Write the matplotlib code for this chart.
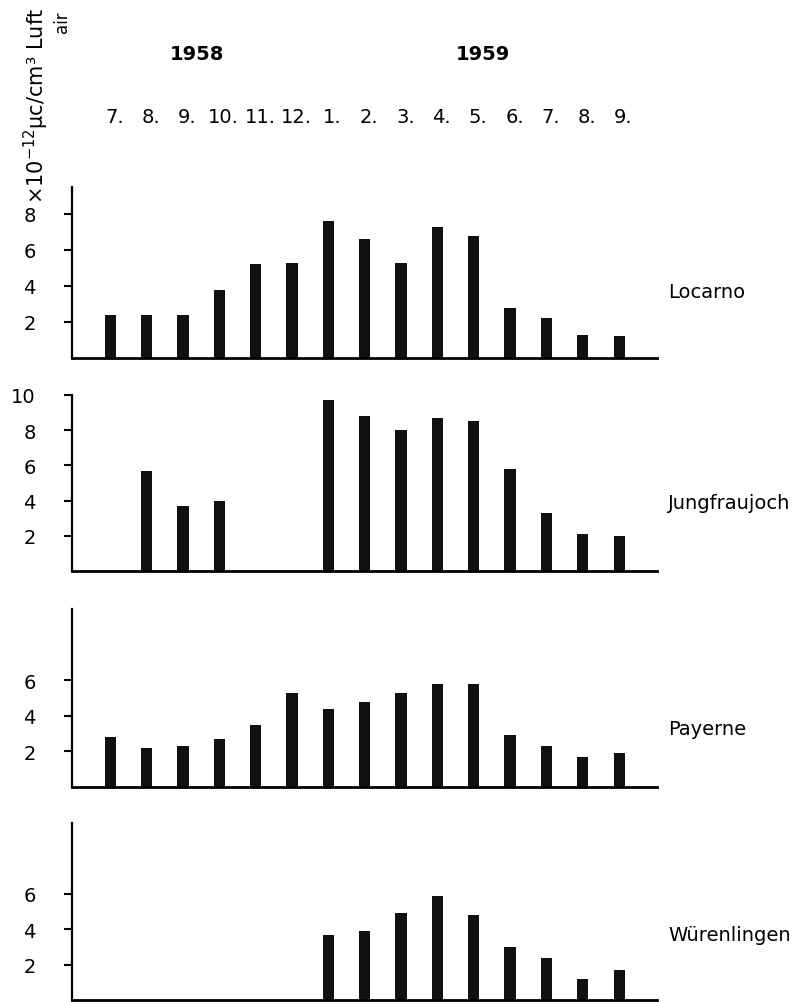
import numpy as np
import matplotlib
matplotlib.use("Agg")
import matplotlib.pyplot as plt

# Monate Juli 1958 bis September 1959
monate = ['7.', '8.', '9.', '10.', '11.', '12.', '1.', '2.', '3.', '4.', '5.', '6.', '7.', '8.', '9.']
jahre = ['1958', '1959']
nan = np.nan

# Aktivität in 10^-12 μc/cm³ Luft
locarno = [2.4, 2.4, 2.4, 3.8, 5.2, 5.3, 7.6, 6.6, 5.3, 7.3, 6.8, 2.8, 2.2, 1.3, 1.2]
jungfraujoch = [nan, 5.7, 3.7, 4.0, nan, nan, 9.7, 8.8, 8.0, 8.7, 8.5, 5.8, 3.3, 2.1, 2.0]
payerne = [2.8, 2.2, 2.3, 2.7, 3.5, 5.3, 4.4, 4.8, 5.3, 5.8, 5.8, 2.9, 2.3, 1.7, 1.9]
wuerenlingen = [nan, nan, nan, nan, nan, nan, 3.7, 3.9, 4.9, 5.9, 4.8, 3.0, 2.4, 1.2, 1.7]

stationen = ['Locarno', 'Jungfraujoch', 'Payerne', 'Würenlingen']
werte = [locarno, jungfraujoch, payerne, wuerenlingen]
yticks = [[2, 4, 6, 8], [2, 4, 6, 8, 10], [2, 4, 6], [2, 4, 6]]
ytop = [9.5, 10, 10, 10]

plt.rcParams['font.family'] = ['DejaVu Sans']

W, H = 806, 1003
fig = plt.figure(figsize=(W / 100, H / 100), dpi=100)

# Lage der Panels in Pixeln: (Nulllinie, Oberkante der y-Achse)
panels_px = [(359, 188), (572, 396), (788, 610), (1001, 824)]
x_links, x_rechts = 72, 657

x = np.arange(len(monate))
axes = []
for i, (y0, y1) in enumerate(panels_px):
    ax = fig.add_axes([x_links / W, 1 - y0 / H, (x_rechts - x_links) / W, (y0 - y1) / H])
    ax.bar(x, np.array(werte[i], dtype=float), width=0.31, color='#111111')
    ax.set_xlim(-1.05, 15.04)
    ax.set_ylim(0, ytop[i])
    ax.set_yticks(yticks[i])
    ax.set_xticks([])
    ax.tick_params(axis='y', length=6, width=1.5, pad=20, labelsize=14, direction='out')
    for s in ['top', 'right']:
        ax.spines[s].set_visible(False)
    ax.spines['left'].set_linewidth(1.6)
    ax.spines['bottom'].set_linewidth(2.0)
    ax.set_facecolor('none')
    axes.append(ax)

# Stationsnamen rechts
name_y = [3.7, 3.9, 3.3, 3.7]
for ax, name, ny in zip(axes, stationen, name_y):
    ax.text(15.35, ny, name, fontsize=14, va='center', ha='left', clip_on=False)

# Monate und Jahre oben
ax = axes[0]
for xi, m in zip(x, monate):
    ax.text(xi + 0.12, 13.4, m, fontsize=14, ha='center', va='center', clip_on=False)
ax.text(2.4, 16.9, jahre[0], fontsize=14, fontweight='bold', ha='center', va='center', clip_on=False)
ax.text(10.25, 16.9, jahre[1], fontsize=14, fontweight='bold', ha='center', va='center', clip_on=False)

# Einheit der y-Achse (gedreht)
fig.text(36 / W, 1 - 204 / H, r'$\times10^{-12}$μc/cm³ Luft', rotation=90,
         fontsize=15, ha='center', va='bottom')
fig.text(62 / W, 1 - 22 / H, 'air', rotation=90, fontsize=12, ha='center', va='center')

fig.savefig('out.png', dpi=100)
